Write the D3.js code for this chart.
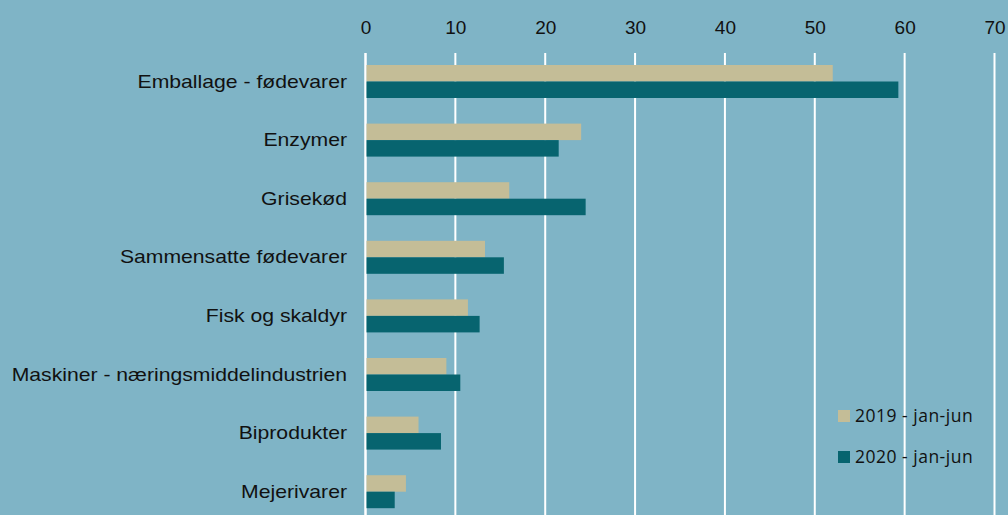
<!DOCTYPE html>
<html><head><meta charset="utf-8">
<script src="https://cdn.jsdelivr.net/npm/d3@7"></script>
<style>html,body{margin:0;padding:0;background:#7fb4c6;}svg{display:block;}</style>
</head><body>
<svg id="c" width="1008" height="515"></svg>
<script>
const categories = ["Emballage - fødevarer","Enzymer","Grisekød","Sammensatte fødevarer","Fisk og skaldyr","Maskiner - næringsmiddelindustrien","Biprodukter","Mejerivarer"];
const seriesNames = ["2019 - jan-jun","2020 - jan-jun"];
const values2019 = [52.0, 24.0, 16.0, 13.3, 11.4, 9.0, 5.9, 4.5];
const values2020 = [59.3, 21.5, 24.5, 15.4, 12.7, 10.55, 8.4, 3.25];
const tickValues = [0,10,20,30,40,50,60,70];
const colors = ["#c4bd97","#07646f"];

const svg = d3.select("#c");
const W = 1008, H = 515;
const x = d3.scaleLinear().domain([0,70]).range([365.5, 994.5]);
const y = d3.scaleBand().domain(categories).range([52.2, 521]).paddingInner(0.437).paddingOuter(0.2185);
const y2 = d3.scaleBand().domain([0,1]).range([0, y.bandwidth()]);

svg.append("rect").attr("width",W).attr("height",H).attr("fill","#7fb4c6");

// gridlines
svg.append("g").selectAll("line").data(tickValues).join("line")
  .attr("x1",d=>x(d)).attr("x2",d=>x(d)).attr("y1",53).attr("y2",H)
  .attr("stroke","#fff").attr("stroke-width",d=>d===0?2.5:2);

// top axis labels
const ax = d3.axisTop(x).tickValues(tickValues).tickSize(0).tickPadding(0);
const gA = svg.append("g").attr("transform","translate(0,34)").call(ax);
gA.select(".domain").remove();
gA.selectAll("text").attr("font-family","Liberation Sans, Arial, sans-serif").attr("font-size",19).attr("fill","#111");

// bars
const data = categories.map((c,i)=>({c, v:[values2019[i], values2020[i]]}));
const g = svg.append("g");
data.forEach(d=>{
  d.v.forEach((v,k)=>{
    g.append("rect").attr("x",x(0)+1).attr("y",y(d.c)+y2(k))
      .attr("width",x(v)-x(0)-1).attr("height",y2.bandwidth())
      .attr("fill",colors[k]);
  });
});

// category labels
const ay = d3.axisLeft(y).tickSize(0).tickPadding(0);
const gY = svg.append("g").attr("transform","translate(347,0)").call(ay);
gY.select(".domain").remove();
gY.selectAll("text").attr("font-family","Liberation Sans, Arial, sans-serif").attr("font-size",19)
  .attr("transform","scale(1.115,1)").attr("fill","#111");

// legend
const lg = svg.append("g");
seriesNames.forEach((s,k)=>{
  const yy = 410 + k*41;
  lg.append("rect").attr("x",838).attr("y",yy).attr("width",12).attr("height",12).attr("fill",colors[k]);
  lg.append("text").attr("x",855).attr("y",yy+12.3).text(s)
    .attr("font-family","Open Sans, sans-serif").attr("font-size",17.5).attr("letter-spacing","0.5px").attr("fill","#111");
});
</script>
</body></html>
